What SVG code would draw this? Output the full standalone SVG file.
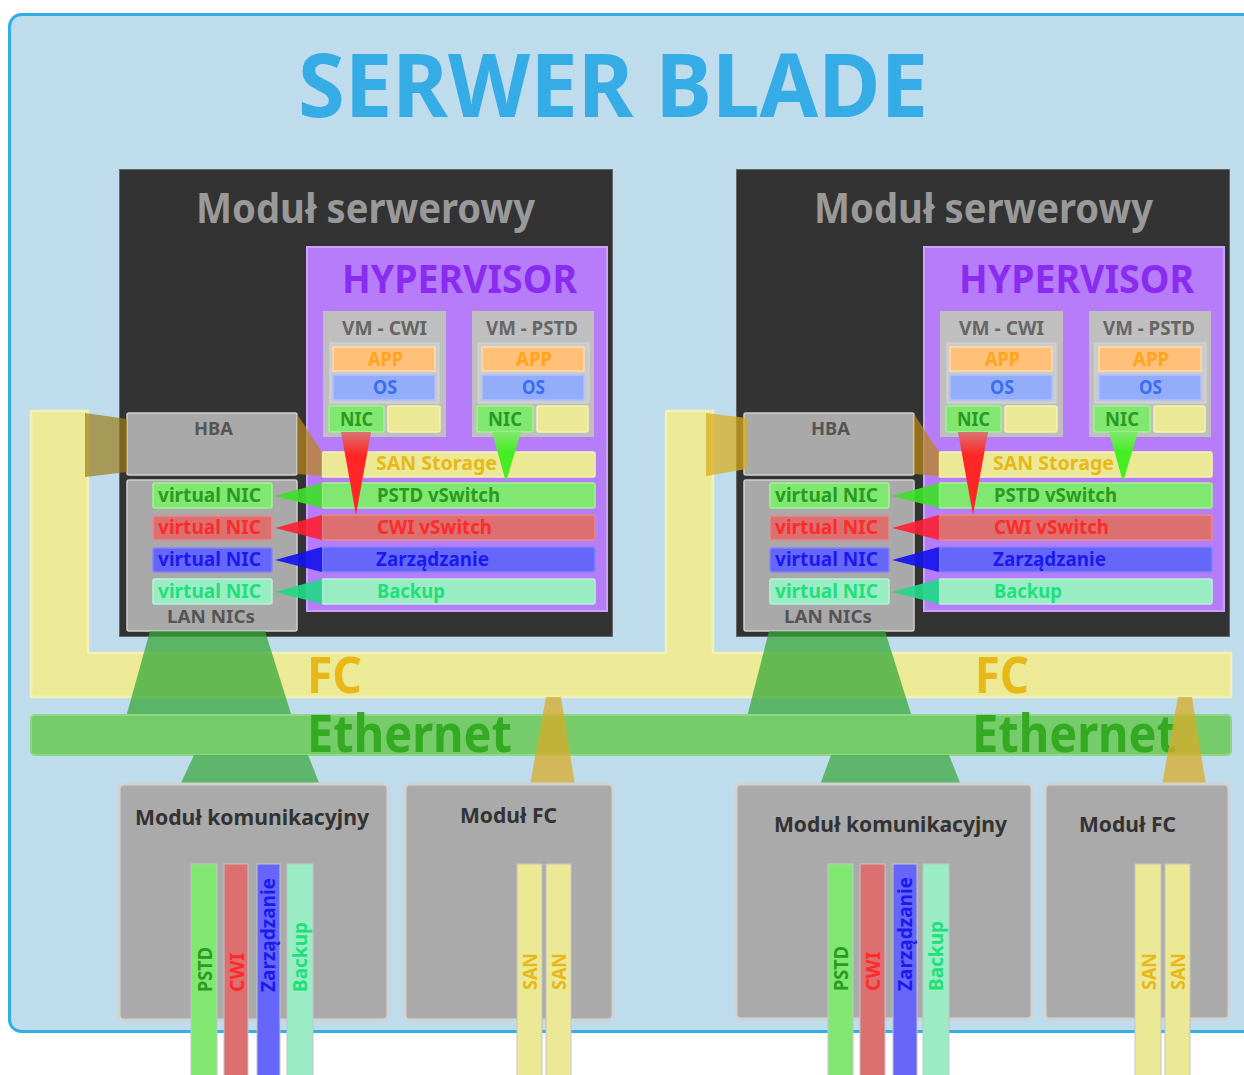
<svg xmlns="http://www.w3.org/2000/svg" width="1244" height="1075" viewBox="0 0 1244 1075">
<style>
.t{font-family:"Noto Sans","Open Sans","DejaVu Sans",sans-serif;font-weight:700}
.mod{fill:#333;stroke:#666;stroke-width:1}
.hyp{fill:#b77cf9;stroke:#caa4fb;stroke-width:2}
.vm{fill:#bfbfbf}
.vmin{fill:#cbcbcb;stroke:#d6d6d6;stroke-width:1}
.app{fill:#ffc07a;stroke:#ffdcae;stroke-width:1.5}
.os{fill:#94adfa;stroke:#aec2ff;stroke-width:1.5}
.nic{fill:#80e870;stroke:#a2f294;stroke-width:1.5}
.yel{fill:#ece996;stroke:#f3f1b8;stroke-width:1.5}
.red{fill:#dc7070;stroke:#e68a8a;stroke-width:1.5}
.blu{fill:#6667f8;stroke:#8185fb;stroke-width:1.5}
.min{fill:#9aecc4;stroke:#b6f4d6;stroke-width:1.5}
.gray{fill:#a9a9a9;stroke:#d0d0d0;stroke-width:1.5}
.bm{fill:#aaa;stroke:#d2d2d2;stroke-width:3}
.bar{stroke:#c4c4c4;stroke-width:1}
.cg{fill:#2a9a20}.cr{fill:#ff2a2a}.cb{fill:#1a1aee}.cm{fill:#20e07a}.cy{fill:#e8b818}
.co{fill:#ffa41c}.cos{fill:#3a6ef0}.cd{fill:#555}.cv{fill:#666}
</style>
<defs>
<linearGradient id="gRed" gradientUnits="userSpaceOnUse" x1="0" y1="432" x2="0" y2="455">
<stop offset="0" stop-color="#d87272"/><stop offset="1" stop-color="#ff2626"/></linearGradient>
<linearGradient id="gGreen" gradientUnits="userSpaceOnUse" x1="0" y1="432" x2="0" y2="452">
<stop offset="0" stop-color="#80e870"/><stop offset="1" stop-color="#44ee22"/></linearGradient>
</defs>
<rect x="0" y="0" width="1244" height="1075" fill="#fff"/>
<rect id="blade" x="9.5" y="14.5" width="1260" height="1017" rx="12" fill="#bfdcec" stroke="#36ace6" stroke-width="3"/>
<text class="t" x="298" y="117" font-size="88" fill="#36ace6" textLength="630" lengthAdjust="spacingAndGlyphs">SERWER BLADE</text>

<g id="fc-bus">
<path d="M31,411 H88 V653 H666 V411 H713 V653 H1231 V697 H31 Z" fill="#ecea96" stroke="#f3f1b8" stroke-width="2.5" stroke-linejoin="round"/>
<text class="t cy" x="307" y="693" font-size="50" textLength="55" lengthAdjust="spacingAndGlyphs">FC</text>
<text class="t cy" x="975" y="693" font-size="50" textLength="54" lengthAdjust="spacingAndGlyphs">FC</text>
</g>

<g id="server-left">
<rect class="mod" x="119.5" y="169.5" width="493" height="467"/>
<text class="t" x="196" y="223" font-size="42" fill="#999" textLength="339" lengthAdjust="spacingAndGlyphs">Moduł serwerowy</text>
<rect class="hyp" x="307" y="247" width="300" height="364"/>
<text class="t" x="342" y="293" font-size="39" fill="#8a2cf0" textLength="235" lengthAdjust="spacingAndGlyphs">HYPERVISOR</text>
<g id="vm-cwi-left">
<rect class="vm" x="323" y="311" width="123" height="126"/>
<text class="t cv" x="342" y="335" font-size="19" textLength="85" lengthAdjust="spacingAndGlyphs">VM - CWI</text>
<rect class="vmin" x="330" y="343" width="109" height="60"/>
<rect class="app" x="333" y="347" width="102" height="24"/>
<text class="t co" x="368" y="366" font-size="19" textLength="35" lengthAdjust="spacingAndGlyphs">APP</text>
<rect class="os" x="333" y="375" width="102" height="25"/>
<text class="t cos" x="373" y="394" font-size="19" textLength="24" lengthAdjust="spacingAndGlyphs">OS</text>
<rect class="nic" x="329" y="406" width="55" height="26" rx="2"/>
<text class="t cg" x="340" y="426" font-size="19" textLength="33" lengthAdjust="spacingAndGlyphs">NIC</text>
<rect class="yel" x="388" y="406" width="52" height="26" rx="2"/>
</g>
<g id="vm-pstd-left">
<rect class="vm" x="472" y="311" width="122" height="126"/>
<text class="t cv" x="486" y="335" font-size="19" textLength="92" lengthAdjust="spacingAndGlyphs">VM - PSTD</text>
<rect class="vmin" x="478" y="343" width="111" height="60"/>
<rect class="app" x="482" y="347" width="102" height="24"/>
<text class="t co" x="516" y="366" font-size="19" textLength="36" lengthAdjust="spacingAndGlyphs">APP</text>
<rect class="os" x="482" y="375" width="102" height="25"/>
<text class="t cos" x="522" y="394" font-size="19" textLength="23" lengthAdjust="spacingAndGlyphs">OS</text>
<rect class="nic" x="477" y="406" width="56" height="26" rx="2"/>
<text class="t cg" x="488" y="426" font-size="19" textLength="34" lengthAdjust="spacingAndGlyphs">NIC</text>
<rect class="yel" x="537" y="406" width="51" height="26" rx="2"/>
</g>
<g id="switches-left">
<rect class="yel" x="322" y="452" width="273" height="25" rx="2"/>
<text class="t cy" x="376" y="470" font-size="19" textLength="121" lengthAdjust="spacingAndGlyphs">SAN Storage</text>
<rect class="nic" x="322" y="483" width="273" height="25" rx="2"/>
<text class="t cg" x="377" y="502" font-size="19" textLength="123" lengthAdjust="spacingAndGlyphs">PSTD vSwitch</text>
<rect class="red" x="322" y="515" width="273" height="25" rx="2"/>
<text class="t cr" x="377" y="534" font-size="19" textLength="115" lengthAdjust="spacingAndGlyphs">CWI vSwitch</text>
<rect class="blu" x="322" y="547" width="273" height="25" rx="2"/>
<text class="t cb" x="376" y="566" font-size="19" textLength="113" lengthAdjust="spacingAndGlyphs">Zarządzanie</text>
<rect class="min" x="322" y="579" width="273" height="25" rx="2"/>
<text class="t cm" x="377" y="598" font-size="19" textLength="68" lengthAdjust="spacingAndGlyphs">Backup</text>
</g>
<g id="hba-left">
<rect class="gray" x="127" y="413" width="170" height="62" rx="2"/>
<text class="t cd" x="194" y="435" font-size="18" textLength="39" lengthAdjust="spacingAndGlyphs">HBA</text>
</g>
<g id="lan-left">
<rect class="gray" x="127" y="480" width="170" height="151" rx="2"/>
<rect class="nic" x="153" y="483" width="119" height="25" rx="2"/>
<text class="t cg" x="158" y="502" font-size="19" textLength="103" lengthAdjust="spacingAndGlyphs">virtual NIC</text>
<rect class="red" x="153" y="516" width="119" height="24" rx="2"/>
<text class="t cr" x="158" y="534" font-size="19" textLength="103" lengthAdjust="spacingAndGlyphs">virtual NIC</text>
<rect class="blu" x="153" y="548" width="119" height="24" rx="2"/>
<text class="t cb" x="158" y="566" font-size="19" textLength="103" lengthAdjust="spacingAndGlyphs">virtual NIC</text>
<rect class="min" x="153" y="579" width="119" height="25" rx="2"/>
<text class="t cm" x="158" y="598" font-size="19" textLength="103" lengthAdjust="spacingAndGlyphs">virtual NIC</text>
<text class="t cd" x="167" y="623" font-size="18" textLength="88" lengthAdjust="spacingAndGlyphs">LAN NICs</text>
</g>
</g>

<g id="server-right" transform="translate(617,0)">
<rect class="mod" x="119.5" y="169.5" width="493" height="467"/>
<text class="t" x="197" y="223" font-size="42" fill="#999" textLength="339" lengthAdjust="spacingAndGlyphs">Moduł serwerowy</text>
<rect class="hyp" x="307" y="247" width="300" height="364"/>
<text class="t" x="342" y="293" font-size="39" fill="#8a2cf0" textLength="235" lengthAdjust="spacingAndGlyphs">HYPERVISOR</text>
<g id="vm-cwi-right">
<rect class="vm" x="323" y="311" width="123" height="126"/>
<text class="t cv" x="342" y="335" font-size="19" textLength="85" lengthAdjust="spacingAndGlyphs">VM - CWI</text>
<rect class="vmin" x="330" y="343" width="109" height="60"/>
<rect class="app" x="333" y="347" width="102" height="24"/>
<text class="t co" x="368" y="366" font-size="19" textLength="35" lengthAdjust="spacingAndGlyphs">APP</text>
<rect class="os" x="333" y="375" width="102" height="25"/>
<text class="t cos" x="373" y="394" font-size="19" textLength="24" lengthAdjust="spacingAndGlyphs">OS</text>
<rect class="nic" x="329" y="406" width="55" height="26" rx="2"/>
<text class="t cg" x="340" y="426" font-size="19" textLength="33" lengthAdjust="spacingAndGlyphs">NIC</text>
<rect class="yel" x="388" y="406" width="52" height="26" rx="2"/>
</g>
<g id="vm-pstd-right">
<rect class="vm" x="472" y="311" width="122" height="126"/>
<text class="t cv" x="486" y="335" font-size="19" textLength="92" lengthAdjust="spacingAndGlyphs">VM - PSTD</text>
<rect class="vmin" x="478" y="343" width="111" height="60"/>
<rect class="app" x="482" y="347" width="102" height="24"/>
<text class="t co" x="516" y="366" font-size="19" textLength="36" lengthAdjust="spacingAndGlyphs">APP</text>
<rect class="os" x="482" y="375" width="102" height="25"/>
<text class="t cos" x="522" y="394" font-size="19" textLength="23" lengthAdjust="spacingAndGlyphs">OS</text>
<rect class="nic" x="477" y="406" width="56" height="26" rx="2"/>
<text class="t cg" x="488" y="426" font-size="19" textLength="34" lengthAdjust="spacingAndGlyphs">NIC</text>
<rect class="yel" x="537" y="406" width="51" height="26" rx="2"/>
</g>
<g id="switches-right">
<rect class="yel" x="322" y="452" width="273" height="25" rx="2"/>
<text class="t cy" x="376" y="470" font-size="19" textLength="121" lengthAdjust="spacingAndGlyphs">SAN Storage</text>
<rect class="nic" x="322" y="483" width="273" height="25" rx="2"/>
<text class="t cg" x="377" y="502" font-size="19" textLength="123" lengthAdjust="spacingAndGlyphs">PSTD vSwitch</text>
<rect class="red" x="322" y="515" width="273" height="25" rx="2"/>
<text class="t cr" x="377" y="534" font-size="19" textLength="115" lengthAdjust="spacingAndGlyphs">CWI vSwitch</text>
<rect class="blu" x="322" y="547" width="273" height="25" rx="2"/>
<text class="t cb" x="376" y="566" font-size="19" textLength="113" lengthAdjust="spacingAndGlyphs">Zarządzanie</text>
<rect class="min" x="322" y="579" width="273" height="25" rx="2"/>
<text class="t cm" x="377" y="598" font-size="19" textLength="68" lengthAdjust="spacingAndGlyphs">Backup</text>
</g>
<g id="hba-right">
<rect class="gray" x="127" y="413" width="170" height="62" rx="2"/>
<text class="t cd" x="194" y="435" font-size="18" textLength="39" lengthAdjust="spacingAndGlyphs">HBA</text>
</g>
<g id="lan-right">
<rect class="gray" x="127" y="480" width="170" height="151" rx="2"/>
<rect class="nic" x="153" y="483" width="119" height="25" rx="2"/>
<text class="t cg" x="158" y="502" font-size="19" textLength="103" lengthAdjust="spacingAndGlyphs">virtual NIC</text>
<rect class="red" x="153" y="516" width="119" height="24" rx="2"/>
<text class="t cr" x="158" y="534" font-size="19" textLength="103" lengthAdjust="spacingAndGlyphs">virtual NIC</text>
<rect class="blu" x="153" y="548" width="119" height="24" rx="2"/>
<text class="t cb" x="158" y="566" font-size="19" textLength="103" lengthAdjust="spacingAndGlyphs">virtual NIC</text>
<rect class="min" x="153" y="579" width="119" height="25" rx="2"/>
<text class="t cm" x="158" y="598" font-size="19" textLength="103" lengthAdjust="spacingAndGlyphs">virtual NIC</text>
<text class="t cd" x="167" y="623" font-size="18" textLength="88" lengthAdjust="spacingAndGlyphs">LAN NICs</text>
</g>
</g>

<g id="connectors">
<!-- FC to HBA -->
<polygon points="85,413 127,419 127,472 85,477" fill="#9c7c18" opacity="0.7"/>
<polygon points="706,413 747,418 747,469 706,476" fill="#d8ac1c" opacity="0.72"/>
<!-- HBA to SAN Storage -->
<polygon points="297,414 322,452 322,476 297,474" fill="#b88818" opacity="0.72"/>
<polygon points="914,414 939,452 939,476 914,474" fill="#b88818" opacity="0.72"/>
<!-- vSwitch to virtual NIC -->
<polygon points="275,496 322,483 322,508" fill="#3ee02a" opacity="0.92"/>
<polygon points="275,528 322,515 322,540" fill="#ff1f33" opacity="0.9"/>
<polygon points="275,560 322,547 322,572" fill="#1414ee" opacity="0.92"/>
<polygon points="275,592 322,579 322,604" fill="#22d888" opacity="0.92"/>
<polygon points="892,496 939,483 939,508" fill="#3ee02a" opacity="0.92"/>
<polygon points="892,528 939,515 939,540" fill="#ff1f33" opacity="0.9"/>
<polygon points="892,560 939,547 939,572" fill="#1414ee" opacity="0.92"/>
<polygon points="892,592 939,579 939,604" fill="#22d888" opacity="0.92"/>
<!-- VM NIC to vSwitch -->
<polygon points="341,432 371,432 356,515" fill="url(#gRed)"/>
<polygon points="492,432 521,432 506,482" fill="url(#gGreen)"/>
<polygon points="958,432 988,432 973,515" fill="url(#gRed)"/>
<polygon points="1109,432 1138,432 1123,482" fill="url(#gGreen)"/>
<!-- LAN NICs to Ethernet -->
<polygon points="150,631 265,631 292,717 126,717" fill="#38a83a" opacity="0.75"/>
<polygon points="769,631 885,631 912,717 747,717" fill="#38a83a" opacity="0.75"/>
</g>

<g id="ethernet-bus">
<rect x="31" y="715" width="1200" height="40" rx="4" fill="#76cc6a" stroke="#8fd786" stroke-width="2"/>
<text class="t" x="307" y="752" font-size="52" fill="#33aa22" textLength="205" lengthAdjust="spacingAndGlyphs">Ethernet</text>
<text class="t" x="972" y="752" font-size="52" fill="#33aa22" textLength="205" lengthAdjust="spacingAndGlyphs">Ethernet</text>
</g>

<g id="connectors-lower">
<polygon points="194,755 308,755 320,785 180,785" fill="#38a83a" opacity="0.72"/>
<polygon points="831,755 949,755 961,785 820,785" fill="#38a83a" opacity="0.72"/>
<polygon points="546,697 561,697 575,785 530,785" fill="#d8ac28" opacity="0.75"/>
<polygon points="1178,697 1192,697 1206,785 1162,785" fill="#d8ac28" opacity="0.75"/>
</g>

<g id="komunikacyjny-left">
<rect class="bm" x="119" y="784" width="269" height="236" rx="5"/>
<text class="t" x="135" y="825" font-size="22" fill="#333" textLength="234" lengthAdjust="spacingAndGlyphs">Moduł komunikacyjny</text>
</g>
<g id="fc-left">
<rect class="bm" x="405" y="784" width="208" height="236" rx="5"/>
<text class="t" x="460" y="823" font-size="22" fill="#333" textLength="97" lengthAdjust="spacingAndGlyphs">Moduł FC</text>
</g>
<g id="komunikacyjny-right">
<rect class="bm" x="736" y="784" width="296" height="235" rx="5"/>
<text class="t" x="774" y="832" font-size="22" fill="#333" textLength="233" lengthAdjust="spacingAndGlyphs">Moduł komunikacyjny</text>
</g>
<g id="fc-right">
<rect class="bm" x="1045" y="784" width="184" height="235" rx="5"/>
<text class="t" x="1079" y="832" font-size="22" fill="#333" textLength="97" lengthAdjust="spacingAndGlyphs">Moduł FC</text>
</g>

<g id="uplinks">
<rect class="bar" x="191" y="864" width="26" height="212" fill="#80e870"/>
<rect class="bar" x="224" y="864" width="24" height="212" fill="#dc7070"/>
<rect class="bar" x="257" y="864" width="23" height="212" fill="#6666fa"/>
<rect class="bar" x="287" y="864" width="26" height="212" fill="#9aecc4"/>
<rect class="bar" x="517" y="864" width="25" height="212" fill="#ece996"/>
<rect class="bar" x="546" y="864" width="25" height="212" fill="#ece996"/>
<rect class="bar" x="828" y="864" width="25" height="212" fill="#80e870"/>
<rect class="bar" x="860" y="864" width="25" height="212" fill="#dc7070"/>
<rect class="bar" x="893" y="864" width="24" height="212" fill="#6666fa"/>
<rect class="bar" x="923" y="864" width="26" height="212" fill="#9aecc4"/>
<rect class="bar" x="1135" y="864" width="26" height="212" fill="#ece996"/>
<rect class="bar" x="1165" y="864" width="25" height="212" fill="#ece996"/>
<text class="t cg" transform="translate(212,992) rotate(-90)" font-size="20" textLength="45" lengthAdjust="spacingAndGlyphs">PSTD</text>
<text class="t cr" transform="translate(244,992) rotate(-90)" font-size="20" textLength="39" lengthAdjust="spacingAndGlyphs">CWI</text>
<text class="t cb" transform="translate(275,992) rotate(-90)" font-size="20" textLength="114" lengthAdjust="spacingAndGlyphs">Zarządzanie</text>
<text class="t cm" transform="translate(307,992) rotate(-90)" font-size="20" textLength="70" lengthAdjust="spacingAndGlyphs">Backup</text>
<text class="t cy" transform="translate(537,990) rotate(-90)" font-size="20" textLength="37" lengthAdjust="spacingAndGlyphs">SAN</text>
<text class="t cy" transform="translate(566,990) rotate(-90)" font-size="20" textLength="37" lengthAdjust="spacingAndGlyphs">SAN</text>
<text class="t cg" transform="translate(848,991) rotate(-90)" font-size="20" textLength="45" lengthAdjust="spacingAndGlyphs">PSTD</text>
<text class="t cr" transform="translate(880,991) rotate(-90)" font-size="20" textLength="39" lengthAdjust="spacingAndGlyphs">CWI</text>
<text class="t cb" transform="translate(912,991) rotate(-90)" font-size="20" textLength="114" lengthAdjust="spacingAndGlyphs">Zarządzanie</text>
<text class="t cm" transform="translate(943,991) rotate(-90)" font-size="20" textLength="70" lengthAdjust="spacingAndGlyphs">Backup</text>
<text class="t cy" transform="translate(1156,990) rotate(-90)" font-size="20" textLength="37" lengthAdjust="spacingAndGlyphs">SAN</text>
<text class="t cy" transform="translate(1185,990) rotate(-90)" font-size="20" textLength="37" lengthAdjust="spacingAndGlyphs">SAN</text>
</g>
</svg>
